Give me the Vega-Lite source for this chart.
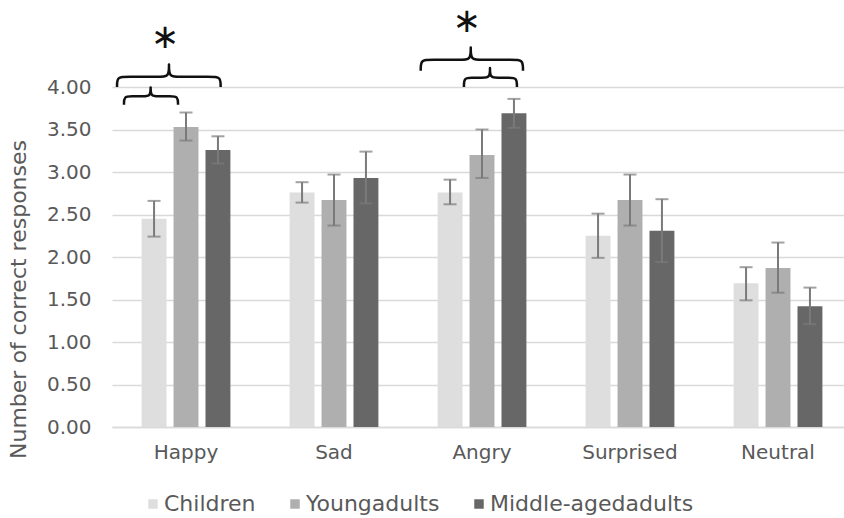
{
  "$schema": "https://vega.github.io/schema/vega-lite/v6.json",
  "width": 740,
  "height": 340,
  "autosize": {"type": "none"},
  "padding": {"left": 112, "top": 87, "right": 0, "bottom": 91},
  "background": "#ffffff",
  "config": {
    "view": {"stroke": null},
    "font": "DejaVu Sans"
  },
  "datasets": {
    "bars": [
      {"emotion": "Happy", "group": "Children", "mean": 2.45, "lo": 2.24, "hi": 2.66},
      {"emotion": "Happy", "group": "Youngadults", "mean": 3.53, "lo": 3.37, "hi": 3.70},
      {"emotion": "Happy", "group": "Middle-agedadults", "mean": 3.26, "lo": 3.10, "hi": 3.42},
      {"emotion": "Sad", "group": "Children", "mean": 2.76, "lo": 2.64, "hi": 2.88},
      {"emotion": "Sad", "group": "Youngadults", "mean": 2.67, "lo": 2.37, "hi": 2.97},
      {"emotion": "Sad", "group": "Middle-agedadults", "mean": 2.93, "lo": 2.63, "hi": 3.24},
      {"emotion": "Angry", "group": "Children", "mean": 2.76, "lo": 2.62, "hi": 2.91},
      {"emotion": "Angry", "group": "Youngadults", "mean": 3.20, "lo": 2.93, "hi": 3.50},
      {"emotion": "Angry", "group": "Middle-agedadults", "mean": 3.69, "lo": 3.52, "hi": 3.86},
      {"emotion": "Surprised", "group": "Children", "mean": 2.25, "lo": 1.99, "hi": 2.51},
      {"emotion": "Surprised", "group": "Youngadults", "mean": 2.67, "lo": 2.37, "hi": 2.97},
      {"emotion": "Surprised", "group": "Middle-agedadults", "mean": 2.31, "lo": 1.94, "hi": 2.68},
      {"emotion": "Neutral", "group": "Children", "mean": 1.69, "lo": 1.49, "hi": 1.88},
      {"emotion": "Neutral", "group": "Youngadults", "mean": 1.87, "lo": 1.58, "hi": 2.17},
      {"emotion": "Neutral", "group": "Middle-agedadults", "mean": 1.42, "lo": 1.21, "hi": 1.64}
    ],
    "braces": [
      {"b": "happyOuter", "i": 0, "x": 0.034, "y": 4.00},
      {"b": "happyOuter", "i": 1, "x": 0.034, "y": 4.12},
      {"b": "happyOuter", "i": 2, "x": 0.094, "y": 4.12},
      {"b": "happyOuter", "i": 3, "x": 0.325, "y": 4.12},
      {"b": "happyOuter", "i": 4, "x": 0.385, "y": 4.12},
      {"b": "happyOuter", "i": 5, "x": 0.385, "y": 4.27},
      {"b": "happyOuter", "i": 6, "x": 0.385, "y": 4.27},
      {"b": "happyOuter", "i": 7, "x": 0.385, "y": 4.12},
      {"b": "happyOuter", "i": 8, "x": 0.445, "y": 4.12},
      {"b": "happyOuter", "i": 9, "x": 0.674, "y": 4.12},
      {"b": "happyOuter", "i": 10, "x": 0.734, "y": 4.12},
      {"b": "happyOuter", "i": 11, "x": 0.734, "y": 4.00},
      {"b": "happyInner", "i": 0, "x": 0.081, "y": 3.79},
      {"b": "happyInner", "i": 1, "x": 0.081, "y": 3.89},
      {"b": "happyInner", "i": 2, "x": 0.131, "y": 3.89},
      {"b": "happyInner", "i": 3, "x": 0.211, "y": 3.89},
      {"b": "happyInner", "i": 4, "x": 0.261, "y": 3.89},
      {"b": "happyInner", "i": 5, "x": 0.261, "y": 4.00},
      {"b": "happyInner", "i": 6, "x": 0.261, "y": 4.00},
      {"b": "happyInner", "i": 7, "x": 0.261, "y": 3.89},
      {"b": "happyInner", "i": 8, "x": 0.311, "y": 3.89},
      {"b": "happyInner", "i": 9, "x": 0.396, "y": 3.89},
      {"b": "happyInner", "i": 10, "x": 0.446, "y": 3.89},
      {"b": "happyInner", "i": 11, "x": 0.446, "y": 3.79},
      {"b": "angryOuter", "i": 0, "x": 2.086, "y": 4.19},
      {"b": "angryOuter", "i": 1, "x": 2.086, "y": 4.32},
      {"b": "angryOuter", "i": 2, "x": 2.146, "y": 4.32},
      {"b": "angryOuter", "i": 3, "x": 2.364, "y": 4.32},
      {"b": "angryOuter", "i": 4, "x": 2.424, "y": 4.32},
      {"b": "angryOuter", "i": 5, "x": 2.424, "y": 4.47},
      {"b": "angryOuter", "i": 6, "x": 2.424, "y": 4.47},
      {"b": "angryOuter", "i": 7, "x": 2.424, "y": 4.32},
      {"b": "angryOuter", "i": 8, "x": 2.484, "y": 4.32},
      {"b": "angryOuter", "i": 9, "x": 2.717, "y": 4.32},
      {"b": "angryOuter", "i": 10, "x": 2.777, "y": 4.32},
      {"b": "angryOuter", "i": 11, "x": 2.777, "y": 4.19},
      {"b": "angryInner", "i": 0, "x": 2.378, "y": 4.00},
      {"b": "angryInner", "i": 1, "x": 2.378, "y": 4.11},
      {"b": "angryInner", "i": 2, "x": 2.428, "y": 4.11},
      {"b": "angryInner", "i": 3, "x": 2.504, "y": 4.11},
      {"b": "angryInner", "i": 4, "x": 2.554, "y": 4.11},
      {"b": "angryInner", "i": 5, "x": 2.554, "y": 4.23},
      {"b": "angryInner", "i": 6, "x": 2.554, "y": 4.23},
      {"b": "angryInner", "i": 7, "x": 2.554, "y": 4.11},
      {"b": "angryInner", "i": 8, "x": 2.604, "y": 4.11},
      {"b": "angryInner", "i": 9, "x": 2.686, "y": 4.11},
      {"b": "angryInner", "i": 10, "x": 2.736, "y": 4.11},
      {"b": "angryInner", "i": 11, "x": 2.736, "y": 4.00}
    ],
    "stars": [
      {"label": "∗", "x": 0.358, "y": 4.576},
      {"label": "∗", "x": 2.397, "y": 4.77}
    ]
  },
  "resolve": {"scale": {"x": "independent", "y": "independent"}, "axis": {"x": "independent", "y": "independent"}},
  "layer": [
    {
      "data": {"name": "bars"},
      "encoding": {
        "x": {
          "field": "emotion", "type": "nominal",
          "sort": ["Happy", "Sad", "Angry", "Surprised", "Neutral"],
          "scale": {"paddingInner": 0.4, "paddingOuter": 0.2},
          "axis": {
            "title": null, "labelAngle": 0, "domainColor": "#d9d9d9", "domainWidth": 1.5,
            "ticks": false, "labelFont": "DejaVu Sans", "labelFontSize": 20,
            "labelColor": "#595959", "labelPadding": 15
          }
        },
        "xOffset": {
          "field": "group", "type": "nominal",
          "sort": ["Children", "Youngadults", "Middle-agedadults"],
          "scale": {"paddingInner": 0.22, "paddingOuter": 0}
        }
      },
      "layer": [
        {
          "mark": {"type": "bar"},
          "encoding": {
            "y": {
              "field": "mean", "type": "quantitative",
              "scale": {"domain": [0, 4], "nice": false},
              "axis": {
                "values": [0, 0.5, 1, 1.5, 2, 2.5, 3, 3.5, 4], "format": ".2f",
                "grid": true, "gridColor": "#d9d9d9", "gridWidth": 1.5,
                "domain": false, "ticks": false, "labelPadding": 21,
                "labelFont": "DejaVu Sans", "labelFontSize": 20, "labelColor": "#595959",
                "title": "Number of correct responses", "titleFont": "DejaVu Sans",
                "titleFontSize": 22, "titleFontWeight": "normal", "titleColor": "#595959",
                "titleX": -94, "titleY": 212, "titleAngle": -90, "titleBaseline": "middle", "titleAlign": "center"
              }
            },
            "color": {
              "field": "group", "type": "nominal",
              "sort": ["Children", "Youngadults", "Middle-agedadults"],
              "scale": {"domain": ["Children", "Youngadults", "Middle-agedadults"], "range": ["#dedede", "#afafaf", "#676767"]},
              "legend": {
                "title": null, "orient": "none", "direction": "horizontal",
                "legendX": 30, "legendY": 406, "padding": 0,
                "symbolType": "square", "symbolSize": 90, "symbolStrokeWidth": 0,
                "labelFont": "DejaVu Sans", "labelFontSize": 22, "labelColor": "#595959",
                "labelOffset": 0, "columnPadding": 28, "labelLimit": 400
              }
            }
          }
        },
        {
          "mark": {"type": "rule", "color": "#7a7a7a", "strokeWidth": 2},
          "encoding": {
            "y": {"field": "lo", "type": "quantitative", "scale": {"domain": [0, 4], "nice": false}},
            "y2": {"field": "hi"}
          }
        },
        {
          "mark": {"type": "tick", "color": "#7a7a7a", "thickness": 2, "size": 13, "orient": "horizontal"},
          "encoding": {
            "y": {"field": "lo", "type": "quantitative", "scale": {"domain": [0, 4], "nice": false}}
          }
        },
        {
          "mark": {"type": "tick", "color": "#7a7a7a", "thickness": 2, "size": 13, "orient": "horizontal"},
          "encoding": {
            "y": {"field": "hi", "type": "quantitative", "scale": {"domain": [0, 4], "nice": false}}
          }
        }
      ]
    },
    {
      "layer": [
        {
          "data": {"name": "braces"},
          "mark": {"type": "line", "interpolate": "basis", "color": "#111111", "strokeWidth": 2.5},
          "encoding": {
            "x": {"field": "x", "type": "quantitative", "scale": {"domain": [0, 5], "nice": false, "zero": false}, "axis": null},
            "y": {"field": "y", "type": "quantitative", "scale": {"domain": [0, 4], "nice": false}, "axis": null},
            "detail": {"field": "b", "type": "nominal"},
            "order": {"field": "i", "type": "quantitative"}
          }
        },
        {
          "data": {"name": "stars"},
          "mark": {"type": "text", "font": "DejaVu Sans", "fontSize": 34, "color": "#111111", "baseline": "middle", "align": "center"},
          "encoding": {
            "x": {"field": "x", "type": "quantitative", "scale": {"domain": [0, 5], "nice": false, "zero": false}, "axis": null},
            "y": {"field": "y", "type": "quantitative", "scale": {"domain": [0, 4], "nice": false}, "axis": null},
            "text": {"field": "label"}
          }
        }
      ]
    }
  ]
}
